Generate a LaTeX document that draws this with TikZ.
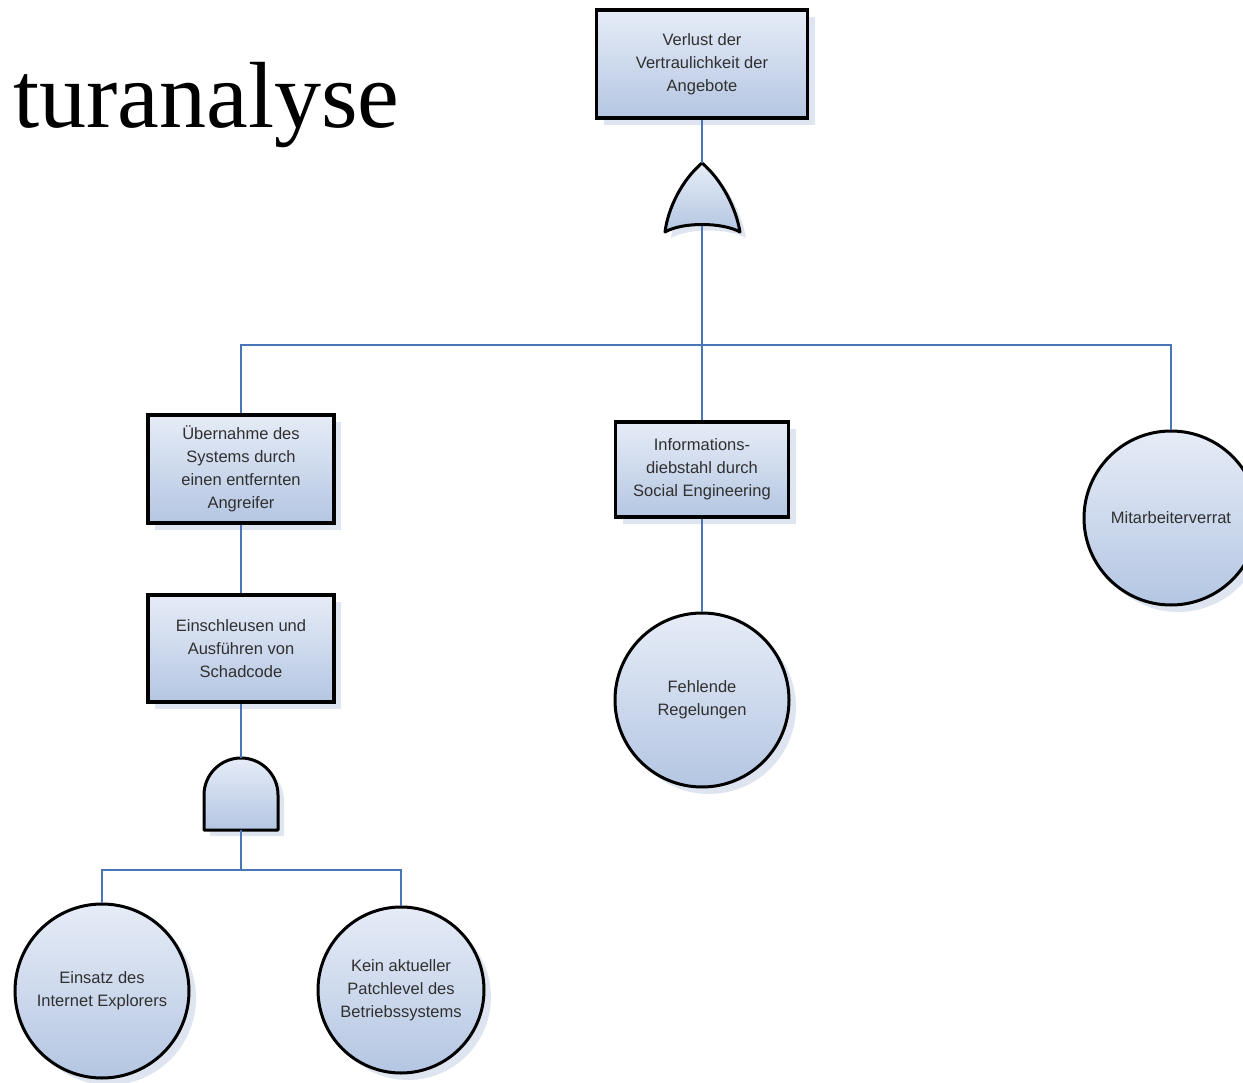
\documentclass[tikz,border=0pt]{standalone}
\usepackage{fontspec}
\setmainfont{Liberation Sans}
\newfontfamily\titlefont{Liberation Serif}
\usetikzlibrary{shadows}
\definecolor{conn}{HTML}{4A76B8}
\definecolor{filltop}{HTML}{E6ECF7}
\definecolor{fillbot}{HTML}{B4C6E2}
\definecolor{shadowc}{HTML}{C8D3E6}
\definecolor{txt}{HTML}{303030}
\tikzset{
  evbox/.style={draw=black, line width=3.5pt, top color=filltop, bottom color=fillbot,
    align=center, font=\fontsize{16.5}{23}\selectfont, text=txt,
    drop shadow={shadow xshift=7pt, shadow yshift=-7pt, fill=shadowc, opacity=0.6},
    inner sep=0pt},
  basic/.style={draw=black, line width=3pt, circle, top color=filltop, bottom color=fillbot,
    align=center, font=\fontsize{16.5}{23}\selectfont, text=txt,
    minimum size=174pt, inner sep=0pt,
    drop shadow={shadow xshift=7pt, shadow yshift=-7pt, fill=shadowc, opacity=0.6}},
  gate/.style={draw=black, line width=3pt, line join=round, top color=filltop, bottom color=fillbot,
    drop shadow={shadow xshift=6pt, shadow yshift=-6pt, fill=shadowc, opacity=0.6}},
  conn/.style={draw=conn, line width=2pt}
}
\begin{document}
\begin{tikzpicture}[x=1pt,y=-1pt]
\useasboundingbox (0,0) rectangle (1243,1083);
\clip (0,0) rectangle (1243,1083);

% title
\node[anchor=base west, inner sep=0pt, font=\titlefont\fontsize{94}{100}\selectfont] (title) at (13,128) {turanalyse};

% gate connection points
\coordinate (ortop) at (702,163);
\coordinate (orbot) at (702,226);
\coordinate (bar) at (702,345);
\coordinate (andtop) at (241,758);
\coordinate (andbot) at (241,830);
\coordinate (andbar) at (241,870);

% events
\node[evbox, minimum width=211pt, minimum height=108pt] (top) at (702,64)
  {Verlust der\\Vertraulichkeit der\\Angebote};
\node[evbox, minimum width=186pt, minimum height=108pt] (ueber) at (241,469)
  {Übernahme des\\Systems durch\\einen entfernten\\Angreifer};
\node[evbox, minimum width=173pt, minimum height=95pt] (info) at (702,469.5)
  {Informations-\\diebstahl durch\\Social Engineering};
\node[evbox, minimum width=186pt, minimum height=107pt] (schad) at (241,648.5)
  {Einschleusen und\\Ausführen von\\Schadcode};

% basic events
\node[basic] (mit) at (1171,518) {Mitarbeiterverrat};
\node[basic] (fehl) at (702,700) {Fehlende\\Regelungen};
\node[basic] (ein) at (102,991) {Einsatz des\\Internet Explorers};
\node[basic, minimum size=166pt] (kein) at (401,990) {Kein aktueller\\Patchlevel des\\Betriebssystems};

% gates
\path[gate] (702,163) .. controls (682,180) and (668,208) .. (665,232)
  .. controls (682,222) and (722,222) .. (740,232)
  .. controls (736,208) and (722,180) .. (702,163) -- cycle;
\path[gate] (204,830) -- (204,795) arc[start angle=180, end angle=360, radius=37] -- (278,830) -- cycle;

% connectors
\draw[conn] (top.south) -- (ortop);
\draw[conn] (orbot) -- (info.north);
\draw[conn] (ueber.north) |- (bar) -| (mit.north);
\draw[conn] (ueber.south) -- (schad.north);
\draw[conn] (schad.south) -- (andtop);
\draw[conn] (andbot) -- (andbar);
\draw[conn] (ein.north) |- (andbar) -| (kein.north);
\draw[conn] (info.south) -- (fehl.north);
\end{tikzpicture}
\end{document}
